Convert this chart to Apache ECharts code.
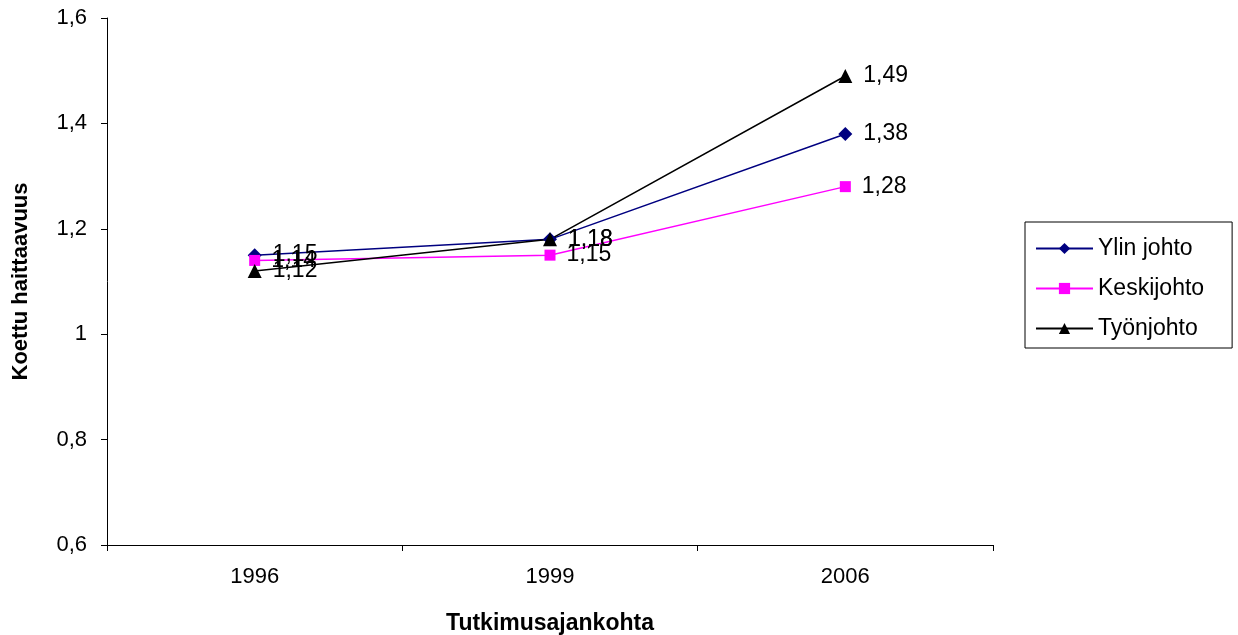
<!DOCTYPE html>
<html><head><meta charset="utf-8">
<script src="https://cdn.jsdelivr.net/npm/echarts@6/dist/echarts.min.js"></script>
<style>html,body{margin:0;padding:0;background:#fff}#c{width:1238px;height:635px}</style>
</head><body><div id="c"></div>
<script>
const categories = ['1996', '1999', '2006'];
const ylinJohto = [1.15, 1.18, 1.38];
const keskijohto = [1.14, 1.15, 1.28];
const tyonjohto = [1.12, 1.18, 1.49];
const seriesNames = ['Ylin johto', 'Keskijohto', 'Työnjohto'];

const fmt = v => String(v).replace('.', ',');
const font = 'Liberation Sans, Arial, sans-serif';
const label = {show: true, position: 'right', distance: 11, fontSize: 23, color: '#000', fontFamily: font,
  formatter: p => fmt(p.value)};

const chart = echarts.init(document.getElementById('c'));
chart.setOption({
  animation: false,
  grid: {left: 107, right: 245, top: 18, bottom: 90, outerBoundsMode: 'none', containLabel: false},
  legend: {
    orient: 'vertical', left: 1025, top: 222,
    padding: [15, 28, 8, 10], itemGap: 17, itemWidth: 57, itemHeight: 14,
    borderColor: '#000', borderWidth: 1, borderRadius: 0,
    textStyle: {fontSize: 23, color: '#000', fontFamily: font},
    data: seriesNames
  },
  xAxis: {
    type: 'category', data: categories, boundaryGap: true,
    name: 'Tutkimusajankohta', nameLocation: 'middle', nameGap: 67,
    nameTextStyle: {fontSize: 23, fontWeight: 'bold', color: '#000', fontFamily: font},
    axisLine: {lineStyle: {color: '#000', width: 1}},
    axisTick: {show: true, length: 6, lineStyle: {color: '#000'}},
    axisLabel: {fontSize: 22, color: '#000', margin: 21, fontFamily: font}
  },
  yAxis: {
    type: 'value', min: 0.6, max: 1.6, interval: 0.2,
    name: 'Koettu haittaavuus', nameLocation: 'middle', nameGap: 75,
    nameTextStyle: {fontSize: 22, fontWeight: 'bold', color: '#000', fontFamily: font},
    axisLine: {show: true, lineStyle: {color: '#000', width: 1}},
    axisTick: {show: true, length: 6, lineStyle: {color: '#000'}},
    splitLine: {show: false},
    axisLabel: {fontSize: 22, color: '#000', margin: 20, fontFamily: font,
      formatter: v => fmt(Math.round(v * 10) / 10)}
  },
  series: [
    {name: seriesNames[0], type: 'line', data: ylinJohto, symbol: 'diamond', symbolSize: 14,
      lineStyle: {color: '#000080', width: 1.5}, itemStyle: {color: '#000080'}, label},
    {name: seriesNames[1], type: 'line', data: keskijohto, symbol: 'rect', symbolSize: 11,
      lineStyle: {color: '#ff00ff', width: 1.5}, itemStyle: {color: '#ff00ff'}, label},
    {name: seriesNames[2], type: 'line', data: tyonjohto, symbol: 'triangle', symbolSize: 14,
      lineStyle: {color: '#000000', width: 1.5}, itemStyle: {color: '#000000'}, label}
  ]
});
</script></body></html>
